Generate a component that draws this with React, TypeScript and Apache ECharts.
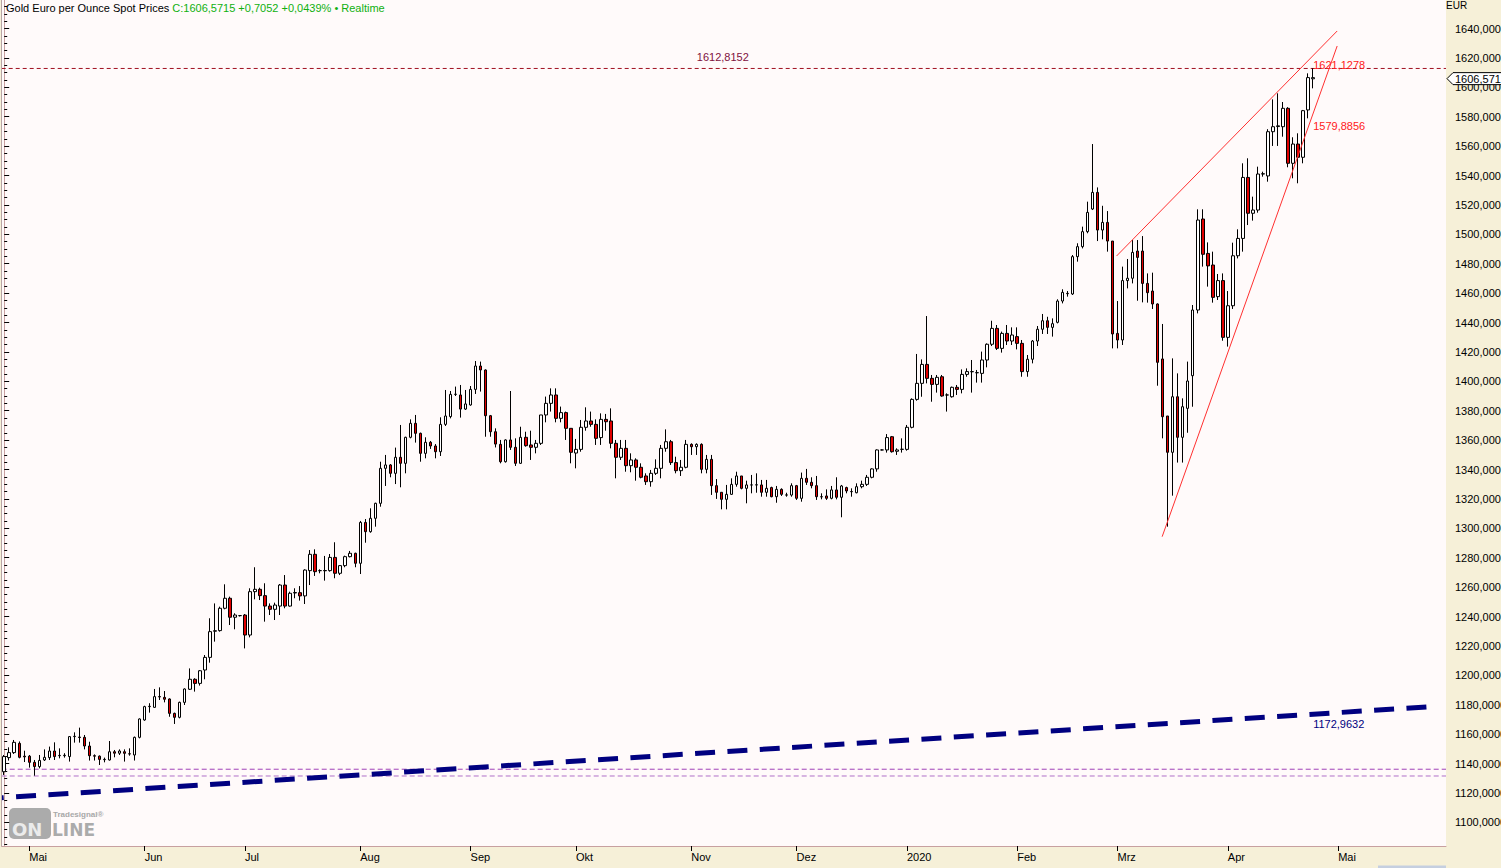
import React, { useEffect, useRef } from "react";
import * as echarts from "echarts";

// ---------- categories (trading days) ----------
const START_DATE = "2019-04-24";
const SKIPPED_DATES = ["2020-01-01"];
const CATEGORY_COUNT = 288;
const MONTH_LABELS = ["Jan", "Feb", "Mrz", "Apr", "Mai", "Jun", "Jul", "Aug", "Sep", "Okt", "Nov", "Dez"];

// ---------- OHLC: [open, close, low, high] ----------
const candles: number[][] = [
  [1134.4, 1144.7, 1132.2, 1145.8], [1144, 1147.4, 1142, 1151], [1147.4, 1154.4, 1146.5, 1156], [1153.7, 1144.2, 1143.5, 1155],
  [1145, 1144.5, 1141, 1148.7], [1145, 1140.8, 1137.2, 1145.8], [1140.8, 1137.9, 1131.7, 1142.4], [1137.9, 1142.1, 1136.7, 1145.8],
  [1142.4, 1144.2, 1141.7, 1149.6], [1144, 1148.5, 1142.4, 1151.5], [1148.5, 1144.7, 1142.4, 1154.4], [1145.3, 1145.5, 1143.5, 1150.3],
  [1145.3, 1145.6, 1144, 1147], [1144.7, 1158.3, 1141.3, 1158.7], [1158.3, 1158.5, 1154.2, 1161.2], [1158, 1157.7, 1154.2, 1164.4],
  [1157.8, 1151.9, 1149.6, 1159.4], [1151.9, 1145.3, 1142, 1154.8], [1145.3, 1145, 1142, 1146.2], [1145, 1142.8, 1139, 1145.5],
  [1142.6, 1142.8, 1140.8, 1144], [1142.4, 1148, 1142, 1155.3], [1148, 1147, 1144.2, 1149.2], [1147, 1148.5, 1145.8, 1149.6],
  [1148, 1146.9, 1141.3, 1149.6], [1146.6, 1146.5, 1145.3, 1150.3], [1145.8, 1157.8, 1142, 1158.3], [1157.8, 1170.3, 1157.1, 1170.7],
  [1169.6, 1178.7, 1169.1, 1179.3], [1178.7, 1178.9, 1174.6, 1181], [1178.2, 1185.5, 1178, 1190.7], [1185.5, 1185.3, 1183.2, 1191.8],
  [1185, 1183.7, 1181.6, 1189.3], [1183.9, 1174.1, 1171.8, 1184.3], [1174.1, 1171.4, 1166.9, 1174.6], [1171.4, 1181.6, 1170.7, 1182.1],
  [1181.6, 1190.7, 1179.8, 1191.1], [1190.5, 1197.3, 1190, 1204.7], [1197.3, 1194.5, 1188.9, 1198], [1194.5, 1203.1, 1193, 1203.6],
  [1203.6, 1212.2, 1197.3, 1213.8], [1212.2, 1229.7, 1208.6, 1238.8], [1230, 1230.3, 1222.9, 1248.9], [1230.4, 1245.6, 1229.7, 1246.7],
  [1245.6, 1252.4, 1244.9, 1261.9], [1252.4, 1239.5, 1234.2, 1253.5], [1239.5, 1241, 1231.3, 1242.2], [1240.6, 1240.6, 1240, 1241],
  [1241, 1227.4, 1218.3, 1241.7], [1227.4, 1256.9, 1225.8, 1259.2], [1256.9, 1258.5, 1251.7, 1273.5], [1258.5, 1254.2, 1251.2, 1259.6],
  [1254.2, 1247.1, 1236.5, 1262.6], [1247.1, 1244.9, 1241, 1248.9], [1244.9, 1247.8, 1237.6, 1249.4], [1247.1, 1261.4, 1241, 1262.1],
  [1261.4, 1247.1, 1245.6, 1268.2], [1247.1, 1255.8, 1246.7, 1256.9], [1256, 1256.3, 1252.4, 1259.2], [1256.2, 1254, 1250.8, 1260.7],
  [1254, 1271.6, 1248.5, 1272.1], [1271.2, 1282.3, 1261.4, 1285.2], [1282.3, 1270.5, 1267.6, 1285.7], [1271.2, 1271.2, 1269.4, 1272.1],
  [1271.3, 1271.1, 1264.4, 1281.2], [1271.2, 1280.2, 1270.5, 1282.5], [1280.2, 1269.4, 1266, 1290.5], [1269.4, 1274.6, 1268.2, 1275],
  [1274.6, 1280.7, 1273.5, 1281.4], [1280.7, 1283, 1280.2, 1284.6], [1283, 1276.2, 1273.5, 1283.4], [1276.2, 1304, 1268.9, 1305],
  [1304, 1297.7, 1290.2, 1306.3], [1297.7, 1306.8, 1297, 1313.6], [1306.8, 1317, 1301.1, 1317.4], [1317, 1340.8, 1314.7, 1345.3],
  [1340.8, 1343.1, 1328.8, 1349.9], [1343.1, 1337.4, 1334.7, 1343.7], [1337.4, 1348.3, 1330.1, 1354.9], [1348.3, 1344.2, 1327.9, 1370.3],
  [1344.2, 1361.9, 1337.4, 1362.3], [1361.9, 1371.4, 1361.2, 1374.1], [1371.4, 1364.6, 1358.3, 1377.1], [1364.6, 1351, 1345.3, 1365.1],
  [1351, 1358.5, 1347.6, 1361.9], [1358.5, 1356, 1354, 1359.4], [1356, 1352.1, 1347.6, 1357.3], [1352.1, 1370.7, 1349.2, 1375.5],
  [1370.7, 1376.4, 1369.6, 1394.1], [1376, 1391.1, 1374.8, 1393.4], [1391.1, 1391.2, 1390, 1396.4], [1390.7, 1381.1, 1375.3, 1397.5],
  [1381.1, 1384.6, 1380.5, 1394.1], [1383.9, 1394.5, 1383.4, 1396.8], [1394.5, 1410.4, 1391.4, 1413.8], [1410.4, 1407.7, 1393, 1413.4],
  [1407.7, 1376.6, 1362.3, 1408.1], [1376.6, 1365.7, 1362.3, 1377.1], [1365.7, 1357.3, 1355, 1368], [1357.1, 1345.3, 1344.2, 1360.1],
  [1345.3, 1360.1, 1344.7, 1360.5], [1360.1, 1355.1, 1353.3, 1393.4], [1355.1, 1344.2, 1342.4, 1361.2], [1344.2, 1361.9, 1343.8, 1369.1],
  [1361.9, 1356.2, 1355.5, 1365.7], [1356.7, 1355.1, 1346.5, 1366.4], [1355.1, 1357.8, 1351, 1360.1], [1357.8, 1377.1, 1356.7, 1377.1],
  [1377.1, 1385, 1372.1, 1389.6], [1385, 1390.7, 1379.4, 1395.2], [1390.7, 1374.8, 1372.1, 1395.2], [1374.8, 1378.7, 1372.1, 1382.8],
  [1378.7, 1368, 1360.1, 1379.4], [1368, 1351.7, 1344.2, 1368], [1351.2, 1353.7, 1340.8, 1360.8], [1353.7, 1368.7, 1352.1, 1373.7],
  [1368.7, 1373, 1366.4, 1382.3], [1373, 1370.7, 1369.1, 1379.4], [1370.7, 1361.2, 1356.7, 1374.1], [1361.7, 1374.1, 1356.7, 1378.2],
  [1374.1, 1372.5, 1366.4, 1377.8], [1373, 1357.8, 1354.4, 1381.6], [1357.8, 1348.3, 1334, 1360.1], [1348.3, 1354.4, 1346.5, 1360.1],
  [1354.4, 1342.6, 1338.5, 1360.1], [1342.6, 1346.5, 1338.1, 1351], [1346.5, 1341.5, 1332.4, 1347.6], [1341.5, 1334.7, 1334, 1344.2],
  [1335.6, 1331.7, 1329.5, 1337.4], [1331.7, 1337.4, 1328.3, 1339.7], [1337.4, 1340.8, 1336.3, 1346.9], [1340.8, 1354.4, 1334, 1356.7],
  [1354.4, 1358.9, 1352.1, 1367.3], [1358.9, 1344.7, 1343.1, 1360.1], [1344.7, 1339.2, 1337.4, 1348.7], [1339.2, 1341.5, 1335.6, 1346.5],
  [1341.5, 1357.1, 1340.8, 1360.1], [1357.1, 1355.5, 1349.9, 1357.8], [1355.5, 1357.1, 1349.9, 1357.8], [1357.1, 1340.1, 1337.4, 1357.8],
  [1340.1, 1346.9, 1337.4, 1349.9], [1346.9, 1329, 1322.7, 1349.9], [1329, 1324.5, 1320, 1333.5], [1324.5, 1319.7, 1312.9, 1324.5],
  [1319.7, 1323.1, 1312.9, 1329.5], [1323.1, 1329.9, 1322.7, 1334], [1329.9, 1335.6, 1328.3, 1338.5], [1335.6, 1327.2, 1326.5, 1335.6],
  [1327.2, 1329.5, 1317, 1332.4], [1329.5, 1329.5, 1323.8, 1336.3], [1329.5, 1329.6, 1324.2, 1337.4], [1329.5, 1324.5, 1321.5, 1332.9],
  [1324.5, 1327.2, 1321.5, 1332.9], [1327.7, 1321.5, 1321.1, 1328.3], [1321.5, 1326.5, 1317.4, 1328.8], [1326.5, 1323.1, 1322, 1327.2],
  [1322.7, 1322.6, 1321.5, 1324.2], [1322.6, 1329, 1321.5, 1330.6], [1329, 1320.4, 1319.3, 1329.5], [1320.4, 1334, 1318.1, 1337.9],
  [1334, 1331.3, 1329.5, 1340.4], [1331.3, 1329, 1327.2, 1334.7], [1329, 1321.5, 1319.3, 1335.6], [1321.5, 1321.4, 1319.7, 1323.8],
  [1322, 1320.4, 1319.3, 1326.5], [1320.4, 1326.1, 1319.7, 1328.8], [1326.1, 1321.1, 1319.7, 1334.7], [1321.1, 1328.8, 1307.5, 1329.5],
  [1327.7, 1325.4, 1323.8, 1328.3], [1325, 1324.9, 1321.5, 1327.2], [1324.2, 1328.3, 1323.8, 1330.6], [1328.3, 1329.9, 1327.2, 1332.4],
  [1329.9, 1334.7, 1328.8, 1336.3], [1334.7, 1340.4, 1334, 1340.8], [1340.4, 1353.3, 1338.5, 1353.7], [1353.3, 1353.3, 1353, 1353.7],
  [1353.3, 1361.7, 1351.5, 1364.1], [1362.3, 1352.1, 1351.5, 1362.8], [1352.4, 1353.3, 1349.9, 1354.4], [1353.7, 1353.8, 1351.5, 1361.2],
  [1353.7, 1368.7, 1352.8, 1370.3], [1368.7, 1387.7, 1368, 1388.4], [1387.7, 1398.6, 1386.8, 1418.6], [1398.6, 1411.5, 1389.5, 1414.9],
  [1411.5, 1402, 1398.6, 1444.4], [1402, 1397.9, 1386.1, 1404.3], [1397.9, 1402.7, 1392.3, 1404.3], [1403.1, 1390, 1389.5, 1404.3],
  [1390.7, 1390.7, 1379.4, 1391.8], [1389.5, 1395.9, 1388.9, 1396.4], [1395.9, 1394.5, 1390.7, 1397.5], [1394.5, 1404.7, 1391.8, 1408.1],
  [1404.7, 1406.6, 1403.1, 1408.8], [1406.5, 1406.6, 1392.3, 1414.5], [1405.9, 1405.8, 1399.1, 1407.7], [1405.4, 1414.5, 1399.1, 1420.2],
  [1414.5, 1425.2, 1409.5, 1425.8], [1425.2, 1436, 1424, 1441.2], [1436, 1422.4, 1421.3, 1438.3], [1422.4, 1432.6, 1419.5, 1433.8],
  [1432.6, 1427.4, 1424.7, 1438.3], [1427.4, 1431.5, 1424.7, 1436.7], [1430.4, 1425.8, 1421.7, 1436.7], [1425.8, 1406.6, 1403.1, 1428.1],
  [1406.6, 1415, 1403.1, 1417.9], [1415, 1427.4, 1412.2, 1428.1], [1427.4, 1435.4, 1424, 1437.6], [1435.4, 1441.2, 1432.2, 1445.8],
  [1441.2, 1436.7, 1432.2, 1443.9], [1436.7, 1439.2, 1430.4, 1442.8], [1440.1, 1454.6, 1439.4, 1455.8], [1454.6, 1460.5, 1453, 1462.6],
  [1459.8, 1459.6, 1457.6, 1461.4], [1459.4, 1484.8, 1458.7, 1485.9], [1484.8, 1491.6, 1481.4, 1493.9], [1491.6, 1501.8, 1490.4, 1505.2],
  [1501.8, 1514.9, 1500.7, 1522.2], [1517.2, 1528.5, 1516.5, 1561.4], [1528.5, 1502.9, 1495.4, 1531.9], [1502.9, 1508.1, 1496.6, 1519.4],
  [1508.1, 1495.4, 1488.2, 1515.8], [1495.4, 1432.2, 1422.4, 1495.4], [1432.6, 1428.1, 1422.4, 1454.6], [1428.1, 1468.5, 1424.7, 1478],
  [1468.5, 1470.1, 1463.2, 1483.2], [1470.1, 1487.7, 1466.6, 1496.1], [1488.6, 1484.3, 1454.8, 1496.1], [1488.6, 1466.6, 1453.7, 1498.8],
  [1466.6, 1460.3, 1453.5, 1473.4], [1461.4, 1452.6, 1449.2, 1473.9], [1452.6, 1412.9, 1397, 1453], [1415.2, 1375.9, 1361.2, 1439],
  [1376.4, 1351.7, 1301.1, 1376.4], [1351.7, 1389.5, 1322.2, 1415.6], [1389.5, 1361.9, 1344.7, 1405.4], [1361.9, 1382.7, 1344.7, 1388.4],
  [1381.6, 1400.2, 1365, 1413.4], [1403.8, 1448.5, 1382.7, 1451.9], [1448.5, 1509.7, 1446.2, 1517], [1510.4, 1486.4, 1478, 1517],
  [1487, 1478.5, 1464.4, 1494.5], [1479.1, 1457.1, 1453.5, 1488.2], [1457.6, 1468.5, 1455.3, 1473], [1468.5, 1429.9, 1427.6, 1473.4],
  [1429.9, 1451.4, 1423.6, 1461.4], [1451.4, 1485.4, 1449.2, 1494.3], [1485.4, 1497.2, 1483.6, 1503.4], [1497.2, 1538.7, 1488.2, 1548.3],
  [1538.7, 1514.3, 1506.3, 1551.7], [1514.3, 1516.5, 1509.3, 1525.6], [1516.5, 1541, 1514.7, 1546], [1541, 1541.2, 1539.2, 1542.6],
  [1539.7, 1569.8, 1535.8, 1571.5], [1569.8, 1573.2, 1560.1, 1591.8], [1573.3, 1573.8, 1560.1, 1595.9], [1573.2, 1585.7, 1566.4, 1590],
  [1585.7, 1548.3, 1545.6, 1586.5], [1548.3, 1561.4, 1538.1, 1566], [1561.4, 1552.4, 1534.7, 1568.7], [1552.4, 1584.1, 1548.3, 1584.6],
  [1584.6, 1606.6, 1578.9, 1609.5], [1605.8, 1606.5715, 1599.3, 1612.9],
];

// ---------- annotations ----------
const LAST_CLOSE = 1606.5715;
const LAST_CLOSE_TEXT = "1606,571";
const RESISTANCE_LEVEL = 1612.8152;
const RESISTANCE_TEXT = "1612,8152";
const SUPPORT_LEVELS = [1136.1, 1131.5];
const navyTrend = [[-0.5, 1116.7], [284.3, 1178.6]];
const wedgeUpper = [[221.8, 1485.2], [265.8, 1638.3]];
const wedgeLower = [[230.9, 1294.3], [265.8, 1628.1]];
const trendLabels = [
  { x: 261, y: 1621.1278, text: "1621,1278", color: "#ff2020" },
  { x: 261, y: 1579.8856, text: "1579,8856", color: "#ff2020" },
  { x: 261, y: 1172.9632, text: "1172,9632", color: "#000080" },
];
const TITLE_TEXT = "Gold Euro per Ounce Spot Prices ";
const QUOTE_TEXT = "C:1606,5715 +0,7052 +0,0439% \u2022 Realtime";
const Y_MIN = 1080;
const Y_MAX = 1660;
const Y_STEP = 20;

const FONT = "'Liberation Sans', Arial, sans-serif";
const BEIGE = "#f6f0d8";
const PLOT_BG = "#fffafa";
const FRAME = "#c8a0a0";

function buildCategories(start: string, count: number, skip: string[]): string[] {
  const out: string[] = [];
  const d = new Date(start + "T12:00:00Z");
  while (out.length < count) {
    const dow = d.getUTCDay();
    const iso = d.toISOString().slice(0, 10);
    if (dow !== 0 && dow !== 6 && !skip.includes(iso)) out.push(iso);
    d.setUTCDate(d.getUTCDate() + 1);
  }
  return out;
}

function buildOption() {
  const categories = buildCategories(START_DATE, CATEGORY_COUNT, SKIPPED_DATES);
  const monthStart = new Set<number>();
  categories.forEach((c, i) => {
    if (i > 0 && i < CATEGORY_COUNT - 3 && c.slice(5, 7) !== categories[i - 1].slice(5, 7)) monthStart.add(i);
  });
  const showAt = (i: number) => monthStart.has(i);
  const fmtMonth = (v: string) => {
    const m = parseInt(v.slice(5, 7), 10) - 1;
    return m === 0 ? v.slice(0, 4) : MONTH_LABELS[m];
  };
  const full = [-0.5, CATEGORY_COUNT - 0.5];
  const hLine = (y: number, color: string, dash: number[], width = 1) => ({
    type: "line",
    xAxisIndex: 1,
    yAxisIndex: 0,
    data: [[full[0], y], [full[1], y]],
    symbol: "none",
    silent: true,
    z: 3,
    lineStyle: { color, width, type: dash },
  });
  const labelSeries = (data: any[], label: any) => ({
    type: "scatter",
    xAxisIndex: 1,
    yAxisIndex: 0,
    symbolSize: 0.1,
    silent: true,
    z: 7,
    itemStyle: { color: "rgba(0,0,0,0)", opacity: 1 },
    emphasis: { disabled: true },
    data,
    label: { show: true, formatter: "{b}", fontSize: 11, fontFamily: FONT, opacity: 1, ...label },
  });

  return {
    animation: false,
    backgroundColor: BEIGE,
    textStyle: { fontFamily: FONT },
    grid: {
      left: 1.7,
      right: 55,
      top: -0.9,
      height: 852.6,
      outerBoundsMode: "none",
      containLabel: false,
      show: true,
      backgroundColor: PLOT_BG,
      borderWidth: 0,
    },
    xAxis: [
      {
        type: "category",
        data: categories,
        boundaryGap: true,
        offset: -5.7,
        z: 10,
        axisLine: { show: true, lineStyle: { color: FRAME, width: 1 } },
        axisTick: { show: true, interval: (i: number) => showAt(i), alignWithLabel: true, length: 5, lineStyle: { color: "#000" } },
        axisLabel: {
          interval: (i: number) => showAt(i),
          formatter: fmtMonth,
          align: "left",
          margin: 5,
          color: "#000",
          fontSize: 11,
          fontFamily: FONT,
        },
        splitLine: { show: false },
      },
      {
        type: "value",
        min: -0.5,
        max: CATEGORY_COUNT - 0.5,
        show: false,
      },
    ],
    yAxis: {
      type: "value",
      position: "right",
      min: Y_MIN,
      max: Y_MAX,
      interval: Y_STEP,
      axisLine: { show: true, lineStyle: { color: FRAME, width: 1 } },
      axisTick: { show: true, length: 5, lineStyle: { color: "#000" } },
      minorTick: { show: true, splitNumber: 4, length: 3, lineStyle: { color: "#000" } },
      splitLine: { show: false },
      axisLabel: {
        margin: 9,
        color: "#000",
        fontSize: 11,
        fontFamily: FONT,
        formatter: (v: number) => (v === Y_MIN || v === Y_MAX ? "" : v.toFixed(4).replace(".", ",")),
      },
    },
    series: [
      {
        type: "candlestick",
        xAxisIndex: 0,
        yAxisIndex: 0,
        data: candles,
        barWidth: 3,
        z: 5,
        itemStyle: {
          color: "#ffffff",
          color0: "#e00000",
          borderColor: "#000000",
          borderColor0: "#000000",
          borderWidth: 1,
        },
      },
      hLine(RESISTANCE_LEVEL, "#a01020", [4, 3]),
      hLine(SUPPORT_LEVELS[0], "#a040b8", [5, 3]),
      hLine(SUPPORT_LEVELS[1], "#b070c8", [5, 3]),
      {
        type: "line",
        xAxisIndex: 1,
        yAxisIndex: 0,
        data: navyTrend,
        symbol: "none",
        silent: true,
        z: 4,
        lineStyle: { color: "#000080", width: 5, type: [20, 12.4], dashOffset: 18.4, cap: "butt" },
      },
      {
        type: "line",
        xAxisIndex: 1,
        yAxisIndex: 0,
        data: wedgeUpper,
        symbol: "none",
        silent: true,
        z: 6,
        lineStyle: { color: "#ff3030", width: 1 },
      },
      {
        type: "line",
        xAxisIndex: 1,
        yAxisIndex: 0,
        data: wedgeLower,
        symbol: "none",
        silent: true,
        z: 6,
        lineStyle: { color: "#ff3030", width: 1 },
      },
      labelSeries(
        trendLabels.map((t) => ({ value: [t.x, t.y], name: t.text, label: { color: t.color } })),
        { position: "right", distance: 0, offset: [0, 9] }
      ),
      labelSeries(
        [{ value: [143.3, RESISTANCE_LEVEL], name: RESISTANCE_TEXT }],
        { position: "top", distance: 6, color: "#801040" }
      ),
    ],
    graphic: {
      elements: [
        {
          id: "bottomStrip",
          type: "rect",
          z: 1,
          silent: true,
          shape: { x: 0, y: 846.5, width: 1501, height: 22 },
          style: { fill: BEIGE },
        },
        {
          id: "scrollbar",
          type: "rect",
          z: 2,
          silent: true,
          shape: { x: 1378, y: 865.5, width: 68, height: 3 },
          style: { fill: "#c5cfe0" },
        },
        {
          id: "leftBorder",
          type: "line",
          z: 20,
          silent: true,
          shape: { x1: 1.5, y1: 0, x2: 1.5, y2: 846.5 },
          style: { stroke: "#b8a4a4", lineWidth: 1 },
        },
        {
          id: "title",
          type: "text",
          z: 20,
          silent: true,
          x: 6,
          y: 8,
          style: {
            text: "{a|" + TITLE_TEXT + "}{b|" + QUOTE_TEXT + "}",
            verticalAlign: "middle",
            align: "left",
            rich: {
              a: { fill: "#000000", fontSize: 11, fontFamily: FONT },
              b: { fill: "#10b010", fontSize: 11, fontFamily: FONT },
            },
          },
        },
        {
          id: "eur",
          type: "text",
          z: 20,
          silent: true,
          x: 1446,
          y: 0,
          style: { text: "EUR", fill: "#000", fontSize: 10, fontFamily: FONT, align: "left", verticalAlign: "top" },
        },
        {
          id: "logo",
          type: "group",
          z: 20,
          silent: true,
          children: [
            {
              type: "rect",
              shape: { x: 9, y: 808, width: 42, height: 31, r: 5 },
              style: { fill: "#ababab" },
            },
            {
              type: "text",
              x: 12,
              y: 838,
              style: { text: "ON", fill: "#ebebeb", fontSize: 18, fontWeight: 900, fontFamily: "'DejaVu Sans', sans-serif", verticalAlign: "bottom", align: "left" },
            },
            {
              type: "text",
              x: 52,
              y: 838,
              style: { text: "LINE", fill: "#ababab", fontSize: 17, fontWeight: 900, fontFamily: "'DejaVu Sans', sans-serif", verticalAlign: "bottom", align: "left" },
            },
            {
              type: "text",
              x: 53,
              y: 814,
              style: { text: "Tradesignal\u00ae", fill: "#a8a8a8", fontSize: 8, fontWeight: "bold", fontFamily: FONT, verticalAlign: "middle", align: "left" },
            },
          ],
        },
      ],
    },
  };
}

export default function App() {
  const ref = useRef<HTMLDivElement>(null);
  useEffect(() => {
    const el = ref.current;
    if (!el) return;
    const chart = echarts.init(el, null, { renderer: "svg" });
    chart.setOption(buildOption() as any);
    const yTag = chart.convertToPixel({ yAxisIndex: 0 }, LAST_CLOSE) as number;
    const xTag = chart.convertToPixel({ xAxisIndex: 1 }, CATEGORY_COUNT - 0.5) as number;
    chart.setOption({
      graphic: {
        elements: [
          {
            id: "tagShape",
            type: "polygon",
            z: 30,
            silent: true,
            shape: {
              points: [
                [xTag + 1, yTag + 1],
                [xTag + 7, yTag - 5],
                [xTag + 60, yTag - 5],
                [xTag + 60, yTag + 7],
                [xTag + 7, yTag + 7],
              ],
            },
            style: { fill: "#ffffff", stroke: "#000000", lineWidth: 1 },
          },
          {
            id: "tagText",
            type: "text",
            z: 31,
            silent: true,
            x: xTag + 9,
            y: yTag + 1,
            style: { text: LAST_CLOSE_TEXT, fill: "#000", fontSize: 11, fontFamily: FONT, align: "left", verticalAlign: "middle" },
          },
        ],
      },
    } as any);
    return () => chart.dispose();
  }, []);
  return (
    <div
      ref={ref}
      style={{ position: "fixed", left: 0, top: 0, width: 1501, height: 868, overflow: "hidden" }}
    />
  );
}
